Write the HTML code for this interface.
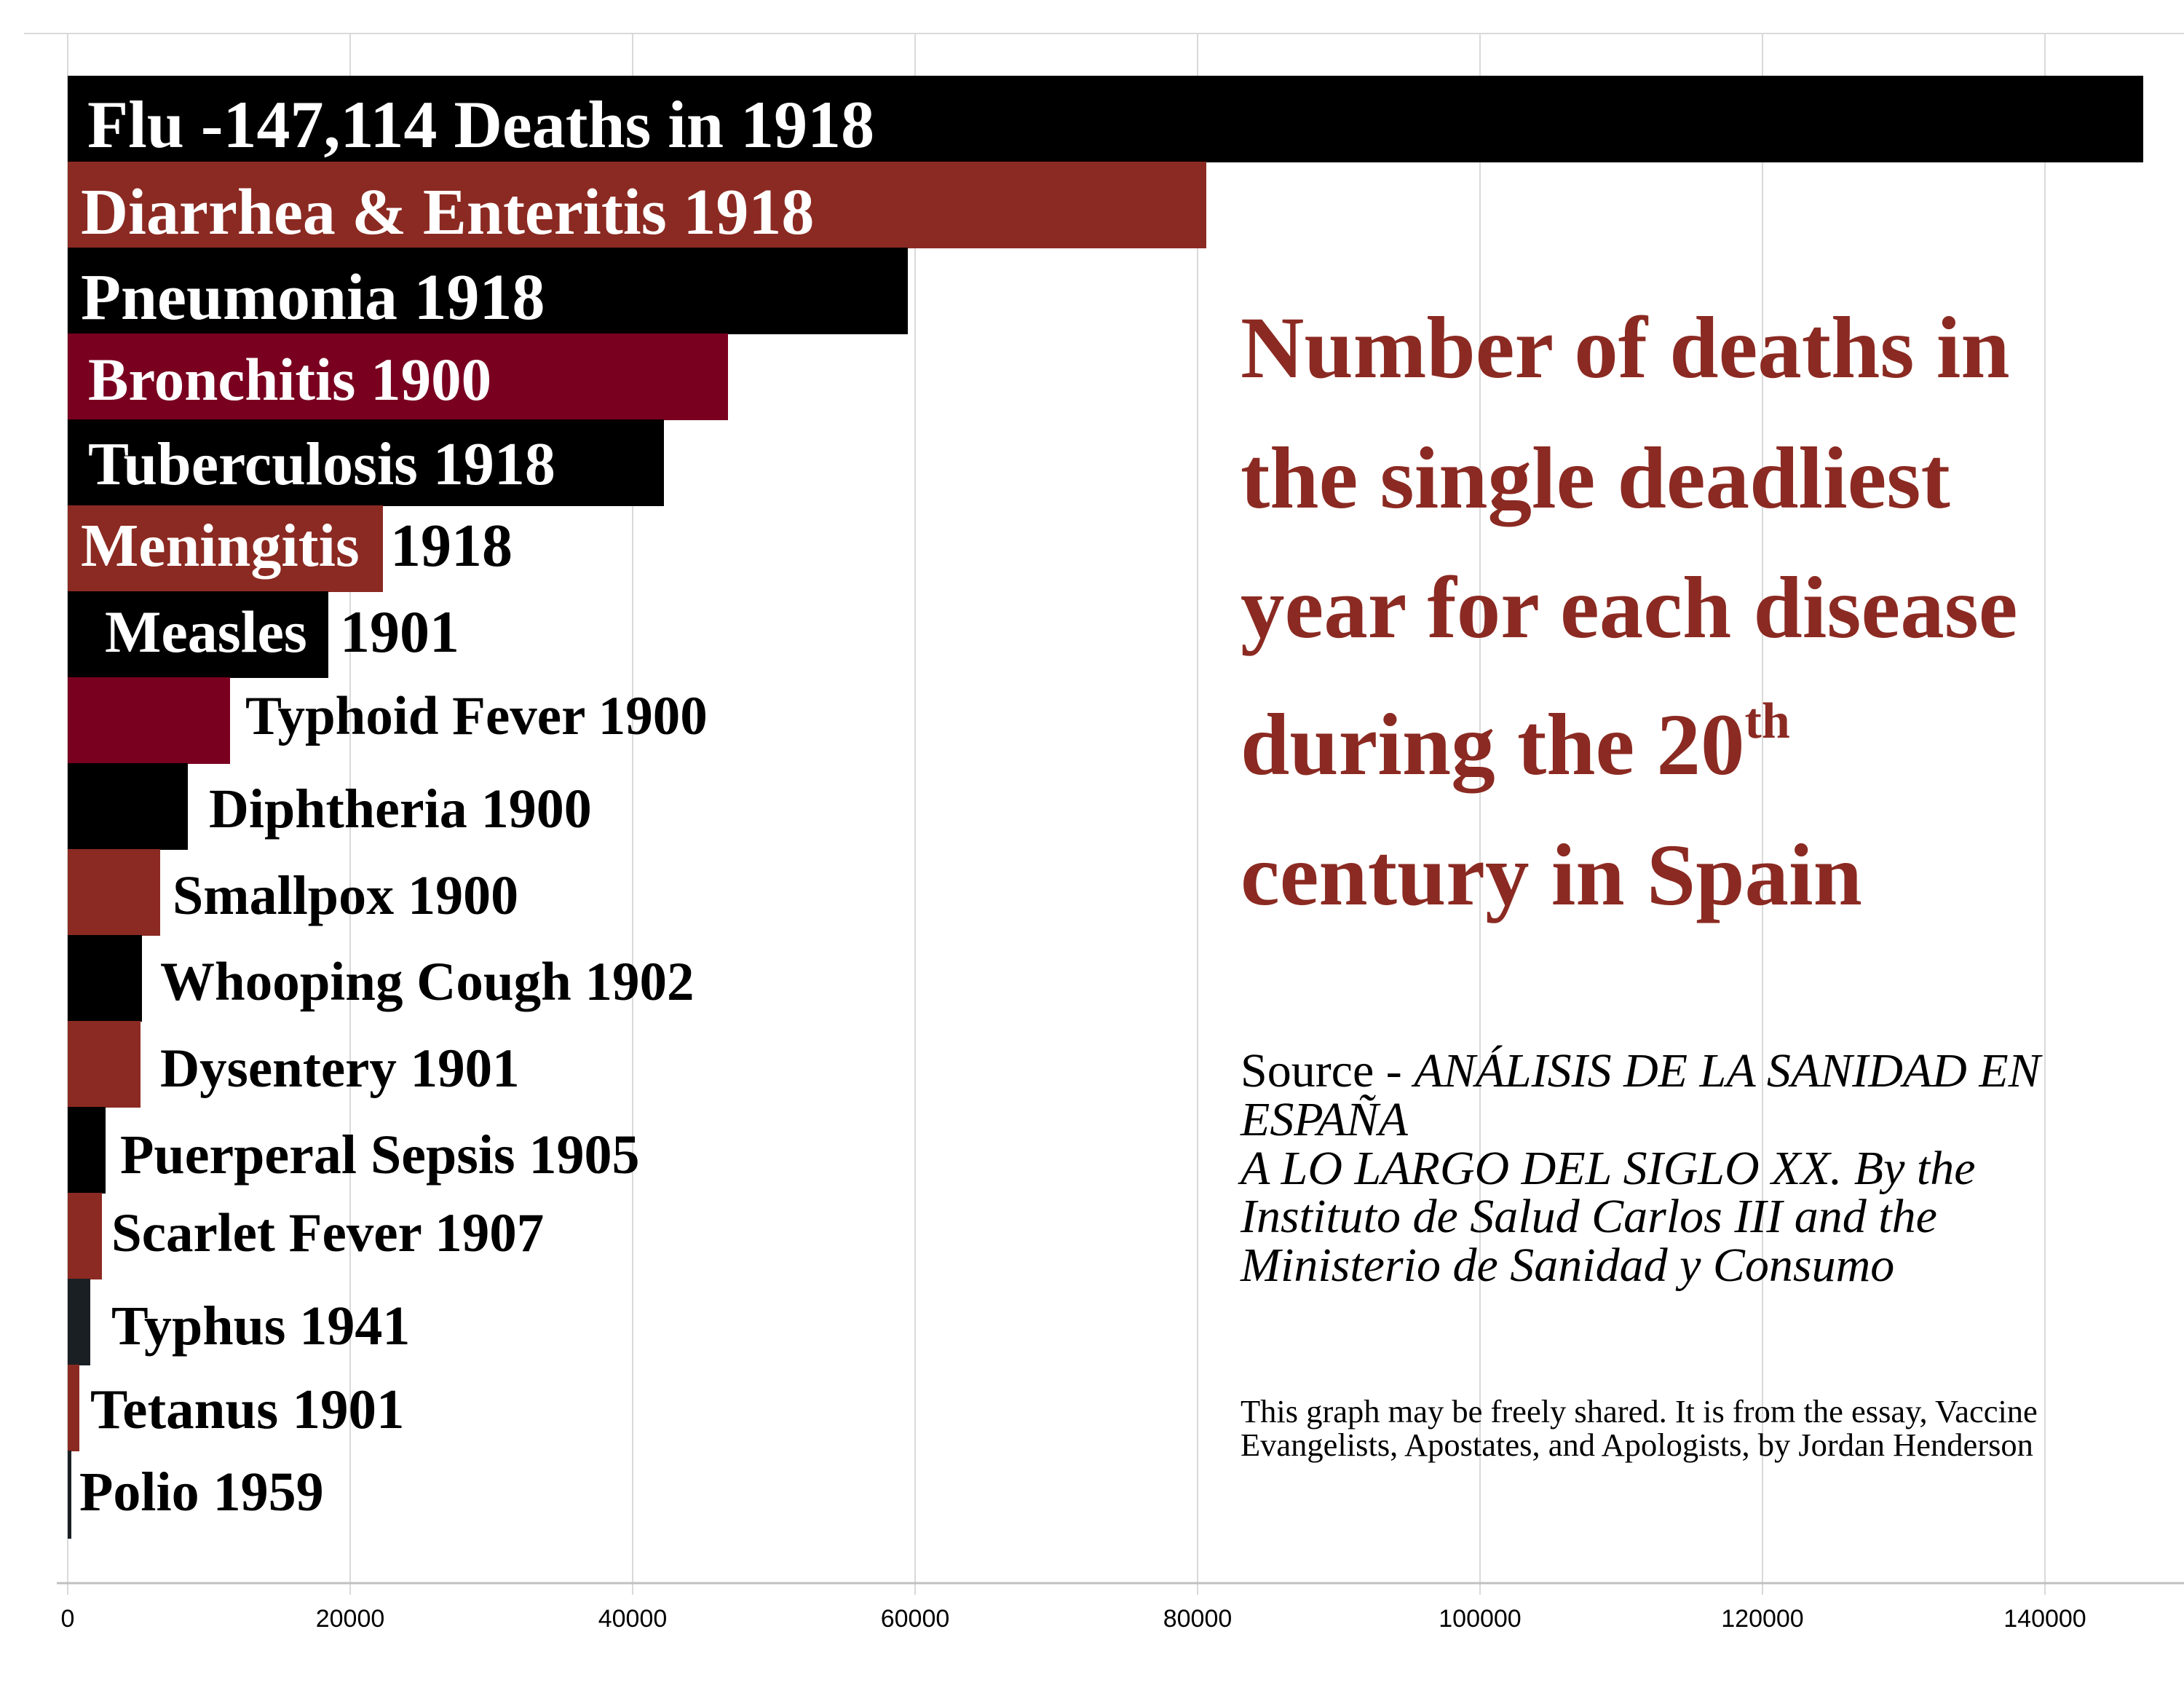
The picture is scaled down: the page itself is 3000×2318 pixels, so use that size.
<!DOCTYPE html>
<html><head><meta charset="utf-8"><style>html,body{margin:0;padding:0;background:#fff}svg{display:block}</style></head>
<body>
<svg width="3000" height="2318" viewBox="0 0 3000 2318" xmlns="http://www.w3.org/2000/svg">
<rect width="3000" height="2318" fill="#fff"/>
<line x1="33" y1="46" x2="3000" y2="46" stroke="#d9d9d9" stroke-width="2"/>
<g stroke="#d9d9d9" stroke-width="2">
<line x1="93" y1="46" x2="93" y2="2190"/><line x1="481" y1="46" x2="481" y2="2190"/><line x1="869" y1="46" x2="869" y2="2190"/><line x1="1257" y1="46" x2="1257" y2="2190"/><line x1="1645" y1="46" x2="1645" y2="2190"/><line x1="2033" y1="46" x2="2033" y2="2190"/><line x1="2421" y1="46" x2="2421" y2="2190"/><line x1="2809" y1="46" x2="2809" y2="2190"/>
</g>
<g>
<rect x="93" y="104" width="2851" height="119" fill="#000"/>
<rect x="93" y="222" width="1564" height="119" fill="#8b2a22"/>
<rect x="93" y="340" width="1154" height="119" fill="#000"/>
<rect x="93" y="458" width="907" height="119" fill="#7a0020"/>
<rect x="93" y="576" width="819" height="119" fill="#000"/>
<rect x="93" y="694" width="433" height="119" fill="#8b2a22"/>
<rect x="93" y="812" width="358" height="119" fill="#000"/>
<rect x="93" y="930" width="223" height="119" fill="#7a0020"/>
<rect x="93" y="1048" width="165" height="119" fill="#000"/>
<rect x="93" y="1166" width="127" height="119" fill="#8b2a22"/>
<rect x="93" y="1284" width="102" height="119" fill="#000"/>
<rect x="93" y="1402" width="100" height="119" fill="#8b2a22"/>
<rect x="93" y="1520" width="52" height="119" fill="#000"/>
<rect x="93" y="1638" width="47" height="119" fill="#8b2a22"/>
<rect x="93" y="1756" width="31" height="119" fill="#1a1f24"/>
<rect x="93" y="1874" width="16" height="119" fill="#8b2a22"/>
<rect x="93" y="1992" width="5" height="121" fill="#1a1f24"/>
</g>
<line x1="78" y1="2174" x2="3000" y2="2174" stroke="#c0c0c0" stroke-width="3"/>
<g font-family="Liberation Serif, serif" font-weight="bold" font-size="76">
<text x="120" y="202" fill="#fff" font-size="92">Flu -147,114 Deaths in 1918</text>
<text x="111" y="321" fill="#fff" font-size="90">Diarrhea &amp; Enteritis 1918</text>
<text x="111" y="438" fill="#fff" font-size="90">Pneumonia 1918</text>
<text x="121" y="549" fill="#fff" font-size="83">Bronchitis 1900</text>
<text x="121" y="665" fill="#fff" font-size="84">Tuberculosis 1918</text>
<text x="111" y="777" fill="#fff" font-size="84">Meningitis</text><text x="536" y="777" fill="#000" font-size="84">1918</text>
<text x="144" y="895" fill="#fff" font-size="82">Measles</text><text x="467" y="895" fill="#000" font-size="82">1901</text>
<text x="337" y="1008" fill="#000" font-size="75">Typhoid Fever 1900</text>
<text x="287" y="1136" fill="#000" font-size="76">Diphtheria 1900</text>
<text x="237" y="1255">Smallpox 1900</text>
<text x="220" y="1373" font-size="75">Whooping Cough 1902</text>
<text x="220" y="1492" font-size="75">Dysentery 1901</text>
<text x="165" y="1611">Puerperal Sepsis 1905</text>
<text x="153" y="1718" font-size="75">Scarlet Fever 1907</text>
<text x="153" y="1846">Typhus 1941</text>
<text x="124" y="1961" font-size="77">Tetanus 1901</text>
<text x="109" y="2074">Polio 1959</text>
</g>
<g font-family="Liberation Serif, serif" font-weight="bold" font-size="121" fill="#8b2a22">
<text x="1704" y="518">Number of deaths in</text>
<text x="1704" y="697">the single deadliest</text>
<text x="1704" y="875">year for each disease</text>
<text x="1704" y="1063">during the 20<tspan font-size="70" dy="-50">th</tspan></text>
<text x="1704" y="1242">century in Spain</text>
</g>
<g font-family="Liberation Serif, serif" font-size="66" fill="#000">
<text x="1704" y="1492">Source - <tspan font-style="italic">ANÁLISIS DE LA SANIDAD EN</tspan></text>
<text x="1704" y="1559" font-style="italic">ESPAÑA</text>
<text x="1704" y="1626" font-style="italic">A LO LARGO DEL SIGLO XX. By the</text>
<text x="1704" y="1692" font-style="italic">Instituto de Salud Carlos III and the</text>
<text x="1704" y="1759" font-style="italic">Ministerio de Sanidad y Consumo</text>
</g>
<g font-family="Liberation Serif, serif" font-size="44.5" fill="#000">
<text x="1704" y="1953">This graph may be freely shared. It is from the essay, Vaccine</text>
<text x="1704" y="1999">Evangelists, Apostates, and Apologists, by Jordan Henderson</text>
</g>
<g font-family="Liberation Sans, sans-serif" font-size="34" fill="#000" text-anchor="middle">
<text x="93" y="2234">0</text><text x="481" y="2234">20000</text><text x="869" y="2234">40000</text><text x="1257" y="2234">60000</text><text x="1645" y="2234">80000</text><text x="2033" y="2234">100000</text><text x="2421" y="2234">120000</text><text x="2809" y="2234">140000</text>
</g>
</svg>
</body></html>
